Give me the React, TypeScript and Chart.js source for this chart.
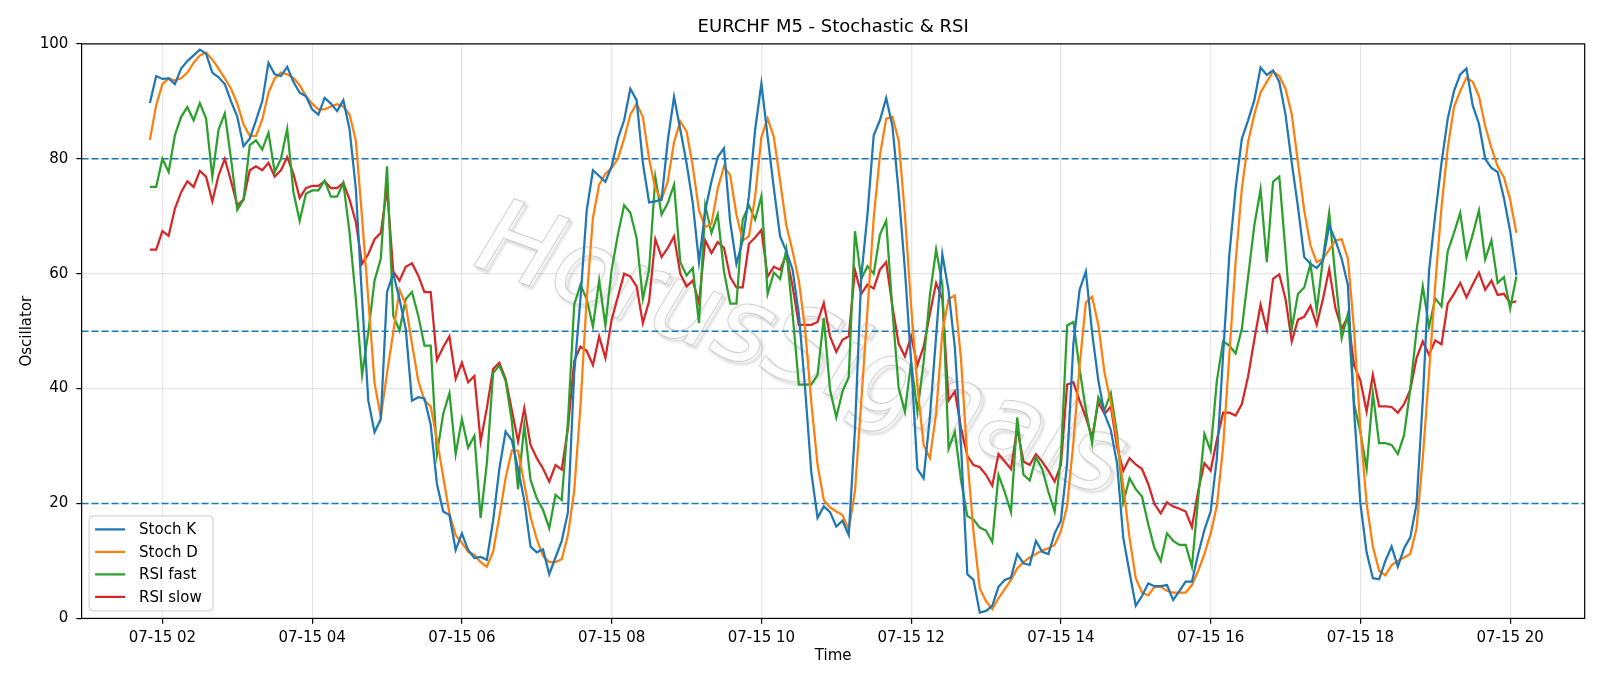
import React, { useEffect, useRef } from "react";
import { Chart, registerables } from "chart.js";

Chart.register(...registerables);

// ---------------- data ----------------
const dateLabel = "07-15";
const startMinute = 110; // 01:50
const stepMinutes = 5;

const stochK = [
  89.7, 94.4, 93.9, 94.0, 93.0, 95.7, 97.0, 98.0, 99.0, 98.3,
  95.0, 94.2, 93.0, 90.0, 87.3, 82.2, 83.5, 86.7, 90.0, 96.7,
  94.7, 94.4, 96.0, 93.4, 91.5, 90.9, 88.6, 87.7, 90.6, 89.6,
  88.3, 90.2, 85.1, 74.8, 55.6, 37.9, 32.4, 34.7, 56.8, 60.0,
  55.6, 50.4, 37.9, 38.5, 38.3, 33.7, 23.4, 18.6, 18.0, 11.9,
  14.8, 11.9, 10.5, 10.7, 10.2, 17.0, 26.0, 32.5, 31.0, 26.0,
  20.5, 12.5, 11.5, 12.0, 7.7, 10.6, 13.5, 18.5, 42.7, 55.6,
  71.0, 78.0, 77.0, 76.0, 78.7, 83.5, 86.7, 92.2, 90.2, 79.3,
  72.4, 72.6, 72.9, 83.2, 90.8, 85.1, 79.3, 72.3, 62.0, 71.0,
  76.1, 80.3, 81.8, 69.0, 61.7, 65.8, 73.5, 85.1, 93.1, 83.8,
  74.8, 66.5, 63.9, 60.7, 53.0, 40.1, 25.4, 17.5, 19.5, 18.5,
  16.0, 17.0, 14.5, 33.0, 59.4, 70.3, 84.1, 86.7, 90.6, 85.7,
  74.2, 60.7, 44.6, 26.0, 24.4, 35.0, 49.1, 63.4, 57.0, 47.2,
  29.9, 7.7, 6.7, 1.0, 1.3, 2.2, 5.5, 6.7, 7.1, 11.2,
  9.6, 9.3, 13.5, 11.6, 11.2, 14.8, 17.0, 27.0, 47.8, 57.2,
  60.4, 49.8, 41.4, 35.6, 32.8, 27.0, 14.0, 8.0, 2.2, 3.9,
  6.1, 5.6, 5.6, 5.8, 3.2, 4.8, 6.4, 6.4, 11.2, 15.4,
  18.6, 27.9, 45.9, 63.3, 74.8, 83.5, 86.7, 90.2, 95.9, 94.6,
  95.4, 93.4, 87.7, 79.3, 71.6, 62.9, 61.7, 61.0, 62.3, 68.4,
  65.8, 62.6, 58.0, 36.0, 20.0, 11.5, 7.0, 6.8, 10.0, 12.5,
  9.0, 12.2, 14.1, 19.9, 38.0, 60.5, 70.3, 79.3, 87.0, 91.8,
  94.7, 95.7, 89.3, 86.1, 80.0, 78.4, 77.7, 73.2, 67.4, 59.7,
];

const stochD = [
  83.3, 89.3, 93.0, 94.0, 93.6, 94.0, 95.0, 96.7, 98.0, 98.5,
  97.3, 95.7, 94.0, 92.2, 89.6, 86.0, 84.0, 84.0, 86.8, 91.5,
  94.0, 95.0, 94.7, 94.1, 92.8, 90.9, 89.6, 88.6, 88.6, 89.1,
  89.5, 89.1, 87.7, 83.2, 69.7, 55.6, 41.0, 35.0, 42.7, 49.8,
  57.2, 54.6, 47.8, 41.4, 37.9, 36.9, 31.1, 24.7, 18.3, 14.5,
  13.2, 11.6, 11.1, 9.8, 9.0, 11.6, 17.7, 24.4, 29.2, 29.2,
  23.4, 17.7, 13.8, 10.9, 9.8, 9.8, 10.3, 14.5, 22.2, 36.9,
  55.6, 69.7, 75.5, 77.4, 78.4, 80.0, 83.5, 87.7, 89.6, 87.3,
  80.0, 74.8, 72.9, 76.1, 82.9, 86.5, 84.8, 78.7, 71.0, 68.1,
  68.7, 74.8, 78.7, 77.1, 70.3, 65.8, 66.5, 73.5, 83.8, 87.0,
  83.8, 76.1, 68.4, 63.9, 58.8, 50.4, 37.6, 26.7, 20.6, 19.3,
  18.6, 18.0, 15.4, 22.2, 37.6, 53.6, 69.7, 80.6, 87.0, 87.3,
  83.2, 70.3, 54.3, 40.5, 30.2, 27.9, 35.6, 49.8, 55.6, 56.2,
  45.0, 28.0, 15.0, 5.2, 3.0, 1.6, 3.5, 5.1, 6.7, 8.7,
  9.8, 10.6, 11.2, 11.8, 12.2, 12.8, 15.2, 19.6, 30.6, 44.0,
  55.0, 56.0, 51.1, 42.7, 37.6, 31.0, 23.0, 14.0, 7.0, 4.5,
  4.0, 5.5, 5.5, 4.8, 4.5, 4.5, 4.5, 5.8, 8.3, 11.2,
  14.8, 19.6, 29.9, 45.9, 62.0, 74.8, 82.9, 87.7, 91.5, 93.4,
  95.2, 94.4, 92.2, 87.7, 79.3, 71.0, 64.9, 62.0, 62.6, 64.2,
  65.8, 66.0, 62.6, 50.0, 33.0, 20.0, 12.5, 8.3, 7.5, 9.3,
  10.0, 10.6, 11.2, 15.7, 27.9, 42.7, 58.1, 71.6, 81.9, 89.0,
  91.8, 94.1, 93.4, 90.9, 85.7, 81.9, 78.7, 76.8, 72.9, 67.1,
];

const rsiFast = [
  75.1, 75.1, 80.0, 77.7, 84.1, 87.3, 89.0, 86.7, 89.7, 87.0,
  76.9, 85.1, 87.9, 80.0, 71.1, 72.9, 82.4, 83.2, 81.6, 84.5,
  77.7, 80.0, 85.2, 74.2, 69.2, 73.9, 74.5, 74.5, 76.2, 73.4,
  73.4, 75.8, 67.1, 55.6, 42.4, 49.8, 58.8, 62.6, 78.7, 52.7,
  50.1, 55.6, 56.8, 52.7, 47.5, 47.5, 28.6, 35.6, 39.2, 28.6,
  34.7, 29.7, 31.8, 17.5, 27.0, 42.7, 44.0, 41.4, 34.4, 22.5,
  33.7, 24.1, 20.9, 18.9, 15.7, 21.5, 20.6, 34.4, 54.6, 58.1,
  55.6, 50.8, 58.8, 51.0, 60.7, 66.8, 71.9, 70.6, 66.2, 55.6,
  60.7, 76.8, 70.3, 72.3, 75.5, 62.0, 59.7, 61.0, 51.4, 71.9,
  67.1, 70.3, 60.4, 54.8, 54.8, 69.4, 71.9, 69.4, 73.5, 56.5,
  60.2, 59.1, 64.2, 53.0, 40.7, 40.7, 40.7, 42.4, 52.3, 39.8,
  35.0, 39.5, 42.0, 67.4, 59.1, 61.3, 60.0, 66.8, 69.2, 53.6,
  40.1, 36.0, 44.6, 36.0, 44.6, 56.2, 64.2, 58.1, 29.5, 32.5,
  24.0, 17.8, 17.2, 15.8, 15.3, 13.3, 25.0, 22.0, 18.5, 35.0,
  25.0, 24.0, 28.0, 26.0, 22.0, 18.6, 28.0, 51.0, 51.6, 43.4,
  36.3, 30.5, 38.5, 36.3, 39.2, 32.1, 20.2, 24.4, 22.5, 21.2,
  16.4, 12.2, 10.0, 14.8, 13.5, 12.8, 12.8, 9.0, 20.9, 32.1,
  29.2, 41.4, 48.2, 47.5, 46.1, 50.4, 59.4, 68.4, 74.7, 62.0,
  76.0, 76.9, 63.9, 50.4, 56.5, 57.6, 61.7, 53.6, 62.6, 70.6,
  59.4, 48.8, 53.0, 37.3, 32.4, 26.0, 39.2, 30.5, 30.5, 30.2,
  28.6, 31.9, 40.0, 50.1, 57.8, 50.7, 55.7, 54.3, 63.9, 67.1,
  70.6, 62.9, 66.8, 71.0, 62.5, 65.8, 58.4, 59.4, 53.9, 59.5,
];

const rsiSlow = [
  64.2, 64.2, 67.4, 66.6, 71.3, 74.2, 76.1, 75.1, 77.9, 76.9,
  72.6, 77.1, 80.0, 76.1, 71.9, 72.9, 78.0, 78.7, 78.0, 79.3,
  76.9, 78.0, 80.3, 77.4, 73.2, 74.9, 75.3, 75.3, 76.1, 74.9,
  74.9, 75.8, 72.9, 69.0, 61.7, 63.4, 66.0, 67.1, 74.8, 60.4,
  58.8, 61.2, 61.8, 59.7, 56.8, 56.8, 45.0, 47.2, 49.1, 41.7,
  44.5, 41.1, 42.2, 30.8, 36.6, 43.4, 44.5, 41.7, 36.3, 30.8,
  36.6, 30.2, 27.9, 26.1, 23.8, 26.7, 25.9, 33.1, 44.8, 47.3,
  46.6, 44.1, 49.1, 45.3, 52.0, 56.0, 60.0, 59.5, 57.8, 51.4,
  55.2, 66.0, 62.9, 64.5, 66.5, 60.0, 57.8, 58.8, 54.9, 65.8,
  63.6, 65.5, 64.5, 59.4, 57.6, 57.6, 65.2, 66.3, 67.6, 59.5,
  61.2, 60.7, 63.3, 57.8, 51.1, 51.1, 51.1, 51.6, 54.9, 49.1,
  46.4, 48.5, 49.1, 60.6, 56.5, 58.1, 57.4, 60.7, 62.0, 54.3,
  47.8, 45.6, 49.1, 44.1, 47.3, 53.0, 58.4, 55.6, 37.9, 39.5,
  33.1, 28.3, 26.7, 26.3, 25.0, 23.1, 28.6, 27.3, 26.0, 33.1,
  27.3, 26.7, 28.6, 27.3, 25.7, 23.8, 26.7, 40.7, 41.1, 37.9,
  35.0, 31.5, 37.6, 35.6, 36.9, 29.9, 25.7, 27.9, 26.8, 26.0,
  23.4, 19.9, 18.3, 20.2, 19.5, 19.1, 18.6, 15.9, 22.2, 27.0,
  25.7, 31.1, 35.8, 35.8, 35.3, 37.3, 42.1, 48.5, 54.6, 50.3,
  59.1, 59.9, 55.6, 48.2, 52.0, 52.5, 54.4, 51.1, 55.6, 60.8,
  54.0, 50.4, 52.5, 44.0, 41.4, 36.0, 42.4, 36.9, 36.9, 36.8,
  35.8, 37.3, 39.8, 45.3, 48.2, 45.9, 48.4, 47.7, 54.8, 56.5,
  58.4, 55.9, 58.1, 60.2, 57.2, 58.8, 56.3, 56.5, 54.9, 55.2,
];

const seriesLabels = ["Stoch K", "Stoch D", "RSI fast", "RSI slow"];
const seriesColors = ["#1f77b4", "#ff7f0e", "#2ca02c", "#d62728"];
const levelLines = [20, 50, 80];
const xTickHours = [2, 4, 6, 8, 10, 12, 14, 16, 18, 20];
const yTickValues = [0, 20, 40, 60, 80, 100];
const titleText = "EURCHF M5 - Stochastic & RSI";
const xTitle = "Time";
const yTitle = "Oscillator";
const watermarkText = "HorusSignals";

// ---------------- layout constants ----------------
const W = 1600;
const H = 686;
const AREA_LEFT = 81.6;
const AREA_RIGHT = 1584.7;
const AREA_TOP = 43.9;
const AREA_BOTTOM = 618.4;
const FONT = '"DejaVu Sans", "Liberation Sans", sans-serif';

const minutes = stochK.map((_, i) => startMinute + i * stepMinutes);
const xFirst = minutes[0];
const xLast = minutes[minutes.length - 1];
const xPad = (xLast - xFirst) * 0.05;

function toPoints(values: number[]) {
  return values.map((v, i) => ({ x: minutes[i], y: v }));
}

const decorPlugin = {
  id: "decor",
  beforeDatasetsDraw(chart: any) {
    const { ctx, chartArea: a, scales } = chart;
    // watermark
    ctx.save();
    ctx.beginPath();
    ctx.rect(a.left, a.top, a.right - a.left, a.bottom - a.top);
    ctx.clip();
    ctx.translate(800, 355);
    ctx.rotate((20 * Math.PI) / 180);
    ctx.font = `italic 104px ${FONT}`;
    ctx.textAlign = "center";
    ctx.textBaseline = "middle";
    ctx.shadowColor = "rgba(0,0,0,0.35)";
    ctx.shadowBlur = 3;
    ctx.shadowOffsetX = 3;
    ctx.shadowOffsetY = 3;
    ctx.lineWidth = 2;
    ctx.strokeStyle = "rgba(180,180,180,0.6)";
    ctx.strokeText(watermarkText, 0, 0);
    ctx.shadowColor = "transparent";
    ctx.fillStyle = "rgba(255,255,255,0.85)";
    ctx.fillText(watermarkText, 0, 0);
    ctx.restore();

    // dashed level lines
    ctx.save();
    ctx.strokeStyle = "#1f77b4";
    ctx.lineWidth = 1.5;
    ctx.setLineDash([7, 3]);
    for (const lv of levelLines) {
      const y = scales.y.getPixelForValue(lv);
      ctx.beginPath();
      ctx.moveTo(a.left, y);
      ctx.lineTo(a.right, y);
      ctx.stroke();
    }
    ctx.restore();
  },
  afterDraw(chart: any) {
    const { ctx, chartArea: a } = chart;
    ctx.save();
    // frame
    ctx.strokeStyle = "#000";
    ctx.lineWidth = 1.2;
    ctx.strokeRect(a.left, a.top, a.right - a.left, a.bottom - a.top);

    // title
    ctx.fillStyle = "#000";
    ctx.font = `18px ${FONT}`;
    ctx.textAlign = "center";
    ctx.textBaseline = "alphabetic";
    ctx.fillText(titleText, (a.left + a.right) / 2, 32);

    // axis titles
    ctx.font = `15px ${FONT}`;
    ctx.textBaseline = "middle";
    ctx.fillText(xTitle, (a.left + a.right) / 2, 656);
    ctx.save();
    ctx.translate(27, (a.top + a.bottom) / 2);
    ctx.rotate(-Math.PI / 2);
    ctx.fillText(yTitle, 0, 0);
    ctx.restore();

    // legend
    const bx = a.left + 7.5;
    const by = a.bottom - 7.5 - 95;
    const bw = 124;
    const bh = 95;
    ctx.beginPath();
    const r = 4;
    ctx.moveTo(bx + r, by);
    ctx.lineTo(bx + bw - r, by);
    ctx.quadraticCurveTo(bx + bw, by, bx + bw, by + r);
    ctx.lineTo(bx + bw, by + bh - r);
    ctx.quadraticCurveTo(bx + bw, by + bh, bx + bw - r, by + bh);
    ctx.lineTo(bx + r, by + bh);
    ctx.quadraticCurveTo(bx, by + bh, bx, by + bh - r);
    ctx.lineTo(bx, by + r);
    ctx.quadraticCurveTo(bx, by, bx + r, by);
    ctx.closePath();
    ctx.fillStyle = "rgba(255,255,255,0.8)";
    ctx.fill();
    ctx.strokeStyle = "#cccccc";
    ctx.lineWidth = 1;
    ctx.stroke();

    ctx.font = `15px ${FONT}`;
    ctx.textAlign = "left";
    ctx.textBaseline = "middle";
    chart.data.datasets.forEach((ds: any, i: number) => {
      const y = by + 13.5 + i * 22.5;
      ctx.strokeStyle = ds.borderColor;
      ctx.lineWidth = 2.25;
      ctx.beginPath();
      ctx.moveTo(bx + 6, y);
      ctx.lineTo(bx + 36, y);
      ctx.stroke();
      ctx.fillStyle = "#000";
      ctx.fillText(ds.label, bx + 50, y + 1);
    });
    ctx.restore();
  },
};

export default function App() {
  const canvasRef = useRef<HTMLCanvasElement | null>(null);

  useEffect(() => {
    document.body.style.margin = "0";
    const canvas = canvasRef.current;
    if (!canvas) return;
    const seriesValues = [stochK, stochD, rsiFast, rsiSlow];
    const chart = new Chart(canvas, {
      type: "line",
      data: {
        datasets: seriesValues.map((vals, i) => ({
          label: seriesLabels[i],
          data: toPoints(vals),
          borderColor: seriesColors[i],
          backgroundColor: seriesColors[i],
          borderWidth: 2.25,
          pointRadius: 0,
          tension: 0,
          fill: false,
        })),
      },
      options: {
        responsive: false,
        animation: false,
        devicePixelRatio: 1,
        layout: {
          padding: { left: 0, right: W - AREA_RIGHT, top: AREA_TOP, bottom: 0 },
        },
        plugins: {
          legend: { display: false },
          title: { display: false },
          tooltip: { enabled: false },
        },
        scales: {
          x: {
            type: "linear",
            min: xFirst - xPad,
            max: xLast + xPad,
            afterBuildTicks: (scale: any) => {
              scale.ticks = xTickHours.map((h) => ({ value: h * 60 }));
            },
            afterFit: (scale: any) => {
              scale.height = H - AREA_BOTTOM;
            },
            ticks: {
              autoSkip: false,
              maxRotation: 0,
              minRotation: 0,
              padding: 5,
              color: "#000",
              font: { family: FONT, size: 15 },
              callback: (v: any) =>
                `${dateLabel} ${String(Math.round(Number(v) / 60)).padStart(2, "0")}`,
            },
            grid: {
              color: "rgba(176,176,176,0.3)",
              lineWidth: 1.2,
              tickColor: "#000",
              tickLength: 5.25,
              drawTicks: true,
            },
            border: { display: false },
          },
          y: {
            type: "linear",
            min: 0,
            max: 100,
            afterBuildTicks: (scale: any) => {
              scale.ticks = yTickValues.map((v) => ({ value: v }));
            },
            afterFit: (scale: any) => {
              scale.width = AREA_LEFT;
            },
            ticks: {
              padding: 8,
              color: "#000",
              font: { family: FONT, size: 15 },
            },
            grid: {
              color: "rgba(176,176,176,0.3)",
              lineWidth: 1.2,
              tickColor: "#000",
              tickLength: 5.25,
              drawTicks: true,
            },
            border: { display: false },
          },
        },
      },
      plugins: [decorPlugin],
    });
    return () => chart.destroy();
  }, []);

  return (
    <div style={{ width: W, height: H, background: "#fff" }}>
      <canvas ref={canvasRef} width={W} height={H} style={{ display: "block" }} />
    </div>
  );
}
